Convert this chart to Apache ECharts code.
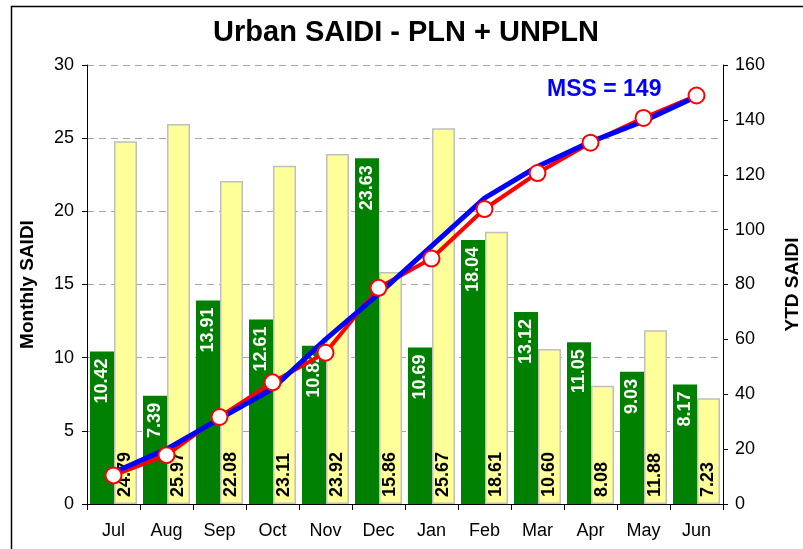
<!DOCTYPE html>
<html>
<head>
<meta charset="utf-8">
<script src="https://cdn.jsdelivr.net/npm/echarts@6/dist/echarts.min.js"></script>
<style>
  html, body { margin: 0; padding: 0; background: #fff; }
  #chart { width: 803px; height: 549px; }
</style>
</head>
<body>
<div id="chart"></div>
<script>
var months = ['Jul', 'Aug', 'Sep', 'Oct', 'Nov', 'Dec', 'Jan', 'Feb', 'Mar', 'Apr', 'May', 'Jun'];
var monthly = [10.42, 7.39, 13.91, 12.61, 10.82, 23.63, 10.69, 18.04, 13.12, 11.05, 9.03, 8.17]; // current year
var lastYear = [24.79, 25.97, 22.08, 23.11, 23.92, 15.86, 25.67, 18.61, 10.60, 8.08, 11.88, 7.23];
var ytd = [10.42, 17.81, 31.72, 44.33, 55.15, 78.78, 89.47, 107.51, 120.63, 131.68, 140.71, 148.88];
var ytdTarget = [11.5, 20, 31, 42, 60, 76.5, 94, 111.5, 123, 132, 139.5, 148.5]; // blue line
var leftTicks = [0, 30, 5];
var rightTicks = [0, 160, 20];

var font = 'Liberation Sans, Arial, sans-serif';
var myChart = echarts.init(document.getElementById('chart'));

var option = {
  animation: false,
  textStyle: { fontFamily: font },
  grid: { left: 87, right: 80, top: 65, bottom: 45, containLabel: false, outerBoundsMode: 'none' },
  graphic: [
    {
      type: 'rect',
      shape: { x: 11.5, y: 6.5, width: 900, height: 700 },
      style: { fill: 'none', stroke: '#000', lineWidth: 1.5 },
      silent: true
    },
    {
      type: 'text',
      x: 406, y: 33,
      style: {
        text: 'Urban SAIDI - PLN + UNPLN',
        font: 'bold 29px ' + font,
        fill: '#000', align: 'center', verticalAlign: 'middle'
      }
    },
    {
      type: 'text',
      x: 547, y: 90, z: 100,
      style: {
        text: 'MSS = 149',
        font: 'bold 23px ' + font,
        fill: '#0000FF', align: 'left', verticalAlign: 'middle'
      }
    }
  ],
  xAxis: {
    type: 'category',
    data: months,
    boundaryGap: true,
    axisLine: { lineStyle: { color: '#000', width: 1 } },
    axisTick: { show: true, length: 6, lineStyle: { color: '#000' } },
    axisLabel: { color: '#000', fontSize: 18, margin: 18 }
  },
  yAxis: [
    {
      type: 'value',
      min: leftTicks[0], max: leftTicks[1], interval: leftTicks[2],
      name: 'Monthly SAIDI',
      nameLocation: 'middle', nameRotate: 90, nameGap: 50,
      nameTextStyle: { fontSize: 19, fontWeight: 'bold', color: '#000' },
      axisLine: { show: true, lineStyle: { color: '#000' } },
      axisTick: { show: true, length: 5, lineStyle: { color: '#000' } },
      axisLabel: { color: '#000', fontSize: 18, margin: 13 },
      splitLine: { show: true, lineStyle: { color: '#A6A6A6', type: [7, 5], width: 1 } }
    },
    {
      type: 'value',
      min: rightTicks[0], max: rightTicks[1], interval: rightTicks[2],
      name: 'YTD SAIDI',
      nameLocation: 'middle', nameRotate: 90, nameGap: 60,
      nameTextStyle: { fontSize: 19, fontWeight: 'bold', color: '#000' },
      axisLine: { show: true, lineStyle: { color: '#000' } },
      axisTick: { show: true, length: 5, lineStyle: { color: '#000' } },
      axisLabel: { color: '#000', fontSize: 18, margin: 12 },
      splitLine: { show: false }
    }
  ],
  series: [
    {
      name: 'Monthly',
      type: 'bar',
      yAxisIndex: 0,
      data: monthly,
      barWidth: 24,
      barGap: '0%',
      itemStyle: { color: '#008000' },
      label: {
        show: true,
        position: 'insideTop',
        rotate: 90,
        align: 'right',
        verticalAlign: 'middle',
        distance: 7,
        color: '#fff',
        fontSize: 18,
        fontWeight: 'bold',
        formatter: function (p) { return p.value.toFixed(2); }
      }
    },
    {
      name: 'Last year',
      type: 'bar',
      yAxisIndex: 0,
      data: lastYear,
      barWidth: 23,
      itemStyle: { color: '#FFFF99', borderColor: '#BFBFBF', borderWidth: 1.5 },
      label: {
        show: true,
        position: 'insideBottom',
        rotate: 90,
        align: 'left',
        verticalAlign: 'middle',
        distance: 7,
        color: '#000',
        fontSize: 18,
        fontWeight: 'bold',
        formatter: function (p) { return p.value.toFixed(2); }
      }
    },
    {
      name: 'YTD',
      type: 'line',
      yAxisIndex: 1,
      data: ytd,
      showSymbol: false,
      lineStyle: { color: '#FF0000', width: 4 },
      z: 3
    },
    {
      name: 'Target',
      type: 'line',
      yAxisIndex: 1,
      data: ytdTarget,
      showSymbol: false,
      lineStyle: { color: '#0000FF', width: 5 },
      z: 4
    },
    {
      name: 'YTD points',
      type: 'line',
      yAxisIndex: 1,
      data: ytd,
      symbol: 'circle',
      symbolSize: 16,
      lineStyle: { width: 0, opacity: 0 },
      itemStyle: { color: '#fff', borderColor: '#FF0000', borderWidth: 2 },
      z: 5
    }
  ]
};
myChart.setOption(option);
</script>
</body>
</html>
